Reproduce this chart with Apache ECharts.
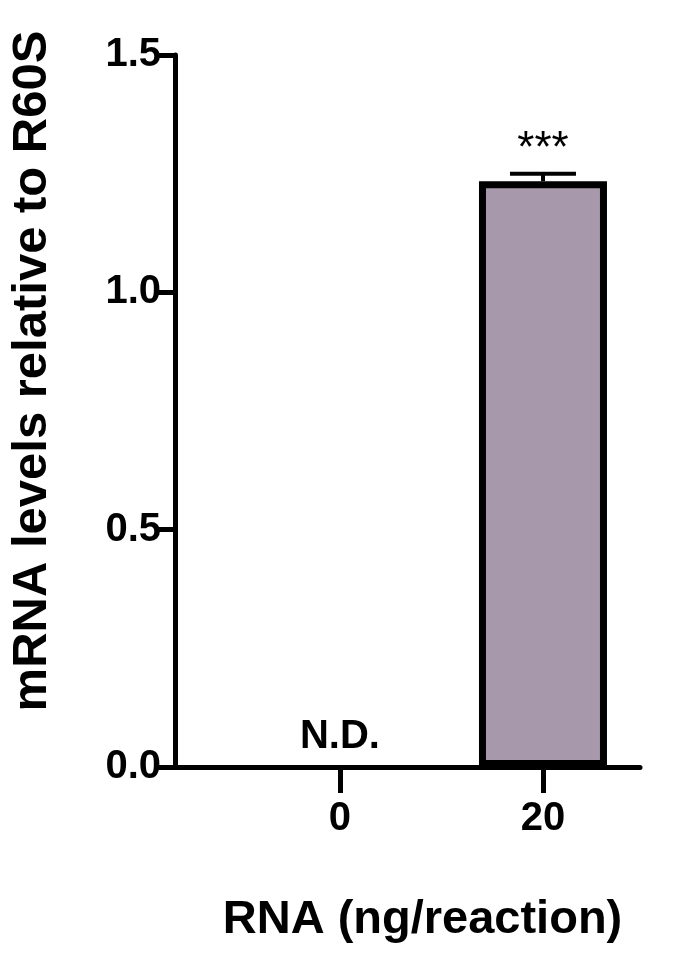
<!DOCTYPE html><html><head><meta charset="utf-8"><script src="https://cdn.jsdelivr.net/npm/echarts@6/dist/echarts.min.js"></script></head><body style="margin:0"><div id="c" style="width:691px;height:960px"></div><script>
const categories=['0','20'];
const means=[0,1.234];
const errors=[0,0.016];
const sigLabels=['N.D.','***'];
const F='Arial, Liberation Sans, sans-serif';
const chart=echarts.init(document.getElementById('c'));
chart.setOption({
 animation:false,
 grid:{left:175,right:51,top:55,bottom:193},
 xAxis:{type:'value',min:-0.8128,max:1.478,splitLine:{show:false},
  axisLine:{lineStyle:{color:'#000',width:5}},
  axisTick:{customValues:[0,1],length:26,lineStyle:{color:'#000',width:5}},
  axisLabel:{customValues:[0,1],formatter:v=>categories[Math.round(v)],fontSize:40,fontWeight:'bold',color:'#000',fontFamily:F,margin:32},
  name:'RNA (ng/reaction)',nameLocation:'middle',nameGap:130,nameTextStyle:{fontSize:47,fontWeight:'bold',color:'#000',fontFamily:F,padding:[0,0,0,30]}},
 yAxis:{type:'value',min:0,max:1.5,interval:0.5,splitLine:{show:false},
  axisLine:{show:true,onZero:false,lineStyle:{color:'#000',width:5}},
  axisTick:{show:true,length:18,lineStyle:{color:'#000',width:5}},
  axisLabel:{formatter:v=>v.toFixed(1),fontSize:40,fontWeight:'bold',color:'#000',fontFamily:F,margin:14},
  name:'mRNA levels relative to R60S',nameLocation:'middle',nameGap:118,nameTextStyle:{fontSize:49,fontWeight:'bold',color:'#000',fontFamily:F,padding:[0,0,0,80]}},
 series:[
  {type:'bar',barWidth:128,data:[[1,means[1]]],itemStyle:{color:'#a898ab',borderColor:'#000',borderWidth:7}},
  {type:'custom',renderItem:(p,api)=>{const x=api.value(0),m=api.value(1),e=api.value(2);
    const t=api.coord([x,m+e]),b=api.coord([x,m]);
    return {type:'group',children:[
     {type:'line',shape:{x1:t[0],y1:t[1],x2:b[0],y2:b[1]},style:{stroke:'#000',lineWidth:4}},
     {type:'line',shape:{x1:t[0]-33,y1:t[1],x2:t[0]+33,y2:t[1]},style:{stroke:'#000',lineWidth:4}},
     {type:'text',x:t[0],y:t[1]-2,style:{text:sigLabels[x],fontSize:44,fontFamily:F,fill:'#000',align:'center',verticalAlign:'bottom'}}]};},
   data:[[1,means[1],errors[1]]]},
  {type:'custom',renderItem:(p,api)=>{const c=api.coord([api.value(0),api.value(1)]);
    return {type:'text',x:c[0],y:c[1]-10,style:{text:sigLabels[0],fontSize:40,fontWeight:'bold',fontFamily:F,fill:'#000',align:'center',verticalAlign:'bottom'}};},
   data:[[0,means[0]]]}
 ]});
</script></body></html>
